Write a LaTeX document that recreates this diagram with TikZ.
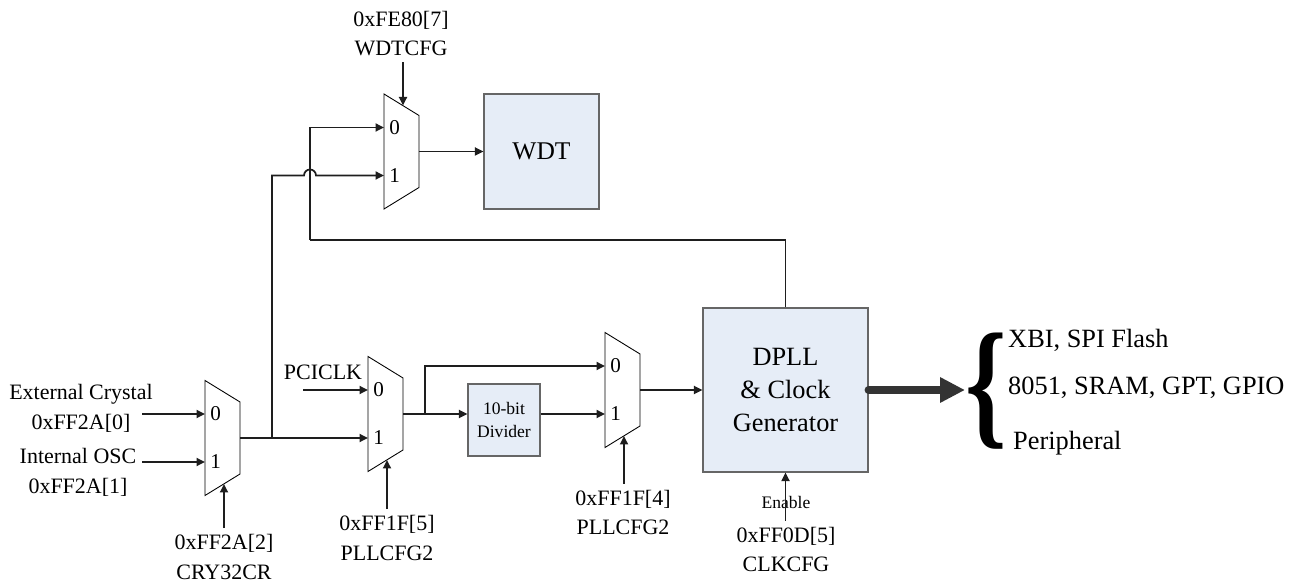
\documentclass[tikz,border=0pt]{standalone}
\usepackage{fontspec}
\setmainfont{Liberation Serif}
\usetikzlibrary{arrows.meta}
\definecolor{boxfill}{RGB}{230,237,247}
\definecolor{wirecol}{RGB}{30,30,30}

\begin{document}
\begin{tikzpicture}[
  wire/.style={draw=wirecol,line width=1pt},
  sig/.style={wire,-{Triangle[length=1.7mm,width=1.6mm]}},
  muxshape/.style={draw=black,line width=0.5pt,fill=white},
  block/.style={draw=black!60,line width=0.6pt,fill=boxfill,align=center},
  reg/.style={font=\fontsize{12.5}{17}\selectfont,align=center},
  portno/.style={font=\fontsize{12}{14}\selectfont,inner sep=1.5pt},
  outtext/.style={anchor=west,font=\fontsize{15}{18}\selectfont},
]
\useasboundingbox (0,0) rectangle (25.92,11.66);

% multiplexers
\foreach \Mux/\X/\Y in {m1/4.10/2.90, m2/7.36/3.38, m3/12.10/3.86, m4/7.68/8.63}{
  \draw[muxshape] (\X,\Y+1.15) -- (\X+0.7,\Y+0.72) -- (\X+0.7,\Y-0.72) -- (\X,\Y-1.15) -- cycle;
  \node[portno,anchor=west] (\Mux-l0) at (\X+0.05,\Y+0.48) {0};
  \node[portno,anchor=west] (\Mux-l1) at (\X+0.05,\Y-0.48) {1};
  \coordinate (\Mux-in0) at (\X,\Y+0.48);
  \coordinate (\Mux-in1) at (\X,\Y-0.48);
  \coordinate (\Mux-out) at (\X+0.7,\Y);
  \coordinate (\Mux-selb) at (\X+0.38,\Y-0.92);
  \coordinate (\Mux-selt) at (\X+0.38,\Y+0.92);
}

% blocks
\node[block,minimum width=2.30cm,minimum height=2.30cm,font=\fontsize{14.5}{17}\selectfont] (wdt) at (10.83,8.63) {WDT};
\node[block,minimum width=1.44cm,minimum height=1.44cm,font=\fontsize{10}{13}\selectfont] (div) at (10.08,3.26) {10-bit\\Divider};
\node[block,minimum width=3.30cm,minimum height=3.28cm,font=\fontsize{15}{19}\selectfont] (dpll) at (15.71,3.86) {DPLL\\\& Clock\\Generator};

% clock sources
\node[reg] (xtal) at (1.62,3.50) {External Crystal\\0xFF2A[0]};
\node[reg] (osc) at (1.56,2.22) {Internal OSC\\0xFF2A[1]};
\node[reg] (pci) at (6.46,4.22) {PCICLK};
\coordinate (xtal-o) at (2.84,3.38);
\coordinate (osc-o) at (2.84,2.42);
\coordinate (pci-o) at (6.06,3.86);

% select registers
\node[reg] (sel1) at (4.48,0.52) {0xFF2A[2]\\CRY32CR};
\node[reg] (sel2) at (7.74,0.90) {0xFF1F[5]\\PLLCFG2};
\node[reg] (sel3) at (12.46,1.41) {0xFF1F[4]\\PLLCFG2};
\node[reg] (sel4) at (8.02,10.99) {0xFE80[7]\\WDTCFG};
\node[reg] (sel5) at (15.72,0.67) {0xFF0D[5]\\CLKCFG};
\node[font=\fontsize{10}{12}\selectfont] (en) at (15.72,1.62) {Enable};

\draw[sig] (xtal-o) -- (m1-in0);
\draw[sig] (osc-o) -- (m1-in1);
\draw[sig] (pci-o) -- (m2-in0);
\draw[sig] (sel1.north -| m1-selb) -- (m1-selb);
\draw[sig] (sel2.north -| m2-selb) -- (m2-selb);
\draw[sig] (sel3.north -| m3-selb) -- (m3-selb);
\draw[sig] (sel4.south -| m4-selt) -- (m4-selt);
\draw[sig] (sel5.north -| dpll.south) -- (dpll.south);

% clock paths
\coordinate (j1) at (5.44,2.90);
\coordinate (hop) at (6.08,8.15);
\coordinate (fb) at (6.20,6.86);
\coordinate (j2) at (8.50,3.38);
\draw[sig] (m1-out) -- (m2-in1);
\draw[sig] (j1) |- (hop) arc[start angle=180,end angle=0,radius=0.12] -- (m4-in1);
\draw[wire] (dpll.north) |- (fb);
\draw[sig] (fb) |- (m4-in0);
\draw[sig] (m4-out) -- (wdt);
\draw[sig] (m2-out) -- (j2 -| div.west);
\draw[sig] (j2) |- (m3-in0);
\draw[sig] (div.east |- m3-in1) -- (m3-in1);
\draw[sig] (m3-out) -- (dpll);

% outputs
\coordinate (outs) at (19.30,3.86);
\draw[draw=black!80,line width=4.5pt,line cap=round,-{Triangle[length=5mm,width=4.8mm]}] (dpll.east) -- (outs);
\node[font=\bfseries\fontsize{80}{80}\selectfont,xscale=0.75,inner sep=0pt] (brace) at (19.73,3.84) {\{};
\node[outtext] (t1) at (20.04,4.86) {XBI, SPI Flash};
\node[outtext] (t2) at (20.04,3.90) {8051, SRAM, GPT, GPIO};
\node[outtext] (t3) at (20.14,2.80) {Peripheral};

\end{tikzpicture}
\end{document}
